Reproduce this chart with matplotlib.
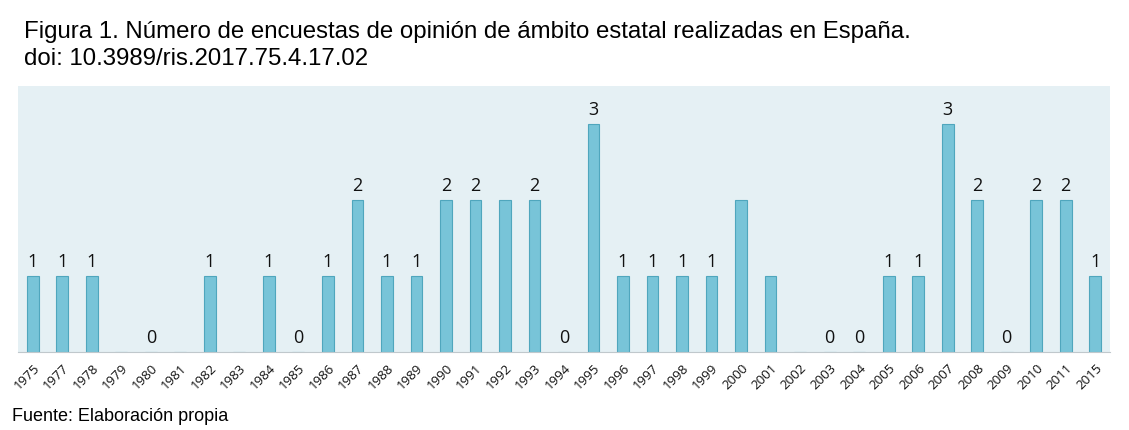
import numpy as np
import matplotlib.pyplot as plt

# Datos
anios = ['1975', '1977', '1978', '1979', '1980', '1981', '1982', '1983', '1984', '1985',
         '1986', '1987', '1988', '1989', '1990', '1991', '1992', '1993', '1994', '1995',
         '1996', '1997', '1998', '1999', '2000', '2001', '2002', '2003', '2004', '2005',
         '2006', '2007', '2008', '2009', '2010', '2011', '2015']
encuestas = [1, 1, 1, 0, 0, 0, 1, 0, 1, 0,
             1, 2, 1, 1, 2, 2, 2, 2, 0, 3,
             1, 1, 1, 1, 2, 1, 0, 0, 0, 1,
             1, 3, 2, 0, 2, 2, 1]
# etiquetas tal como aparecen (vacio = sin etiqueta)
etiquetas = ['1', '1', '1', '', '0', '', '1', '', '1', '0',
             '1', '2', '1', '1', '2', '2', '', '2', '0', '3',
             '1', '1', '1', '1', '', '', '', '0', '0', '1',
             '1', '3', '2', '0', '2', '2', '1']

fig = plt.figure(figsize=(11.29, 4.31), dpi=100)
ax = fig.add_axes([18/1129, 1-353/431, (1110-18)/1129, (353-87)/431])
ax.set_facecolor('#e5f0f4')

x = np.arange(len(anios))
ax.bar(x, encuestas, width=0.4, color='#78c4d8', edgecolor='#4fa6bd', linewidth=0.8)

for xi, v, lab in zip(x, encuestas, etiquetas):
    if lab:
        ax.text(xi, v + 0.08, lab, ha='center', va='bottom', fontsize=13,
                family='Open Sans', color='#111111')

ax.set_xlim(-0.5, len(anios) - 0.5)
ax.set_ylim(0, 3.5)
ax.set_yticks([])
ax.set_xticks(x)
ax.set_xticklabels(anios, rotation=45, ha='right', rotation_mode='anchor',
                   fontsize=9.5, family='Open Sans', color='#111111')
ax.tick_params(axis='x', length=0, pad=6)
for s in ['top', 'right', 'left']:
    ax.spines[s].set_visible(False)
ax.spines['bottom'].set_color('#c0c8cc')

fig.text(24/1129, 1-38/431, 'Figura 1. Número de encuestas de opinión de ámbito estatal realizadas en España.',
         fontsize=17.3, family='Liberation Sans', va='baseline')
fig.text(24/1129, 1-65/431, 'doi: 10.3989/ris.2017.75.4.17.02',
         fontsize=17.3, family='Liberation Sans', va='baseline')
fig.text(12/1129, 1-421/431, 'Fuente: Elaboración propia',
         fontsize=13, family='Liberation Sans', va='baseline')

fig.savefig('out.png', dpi=100)
